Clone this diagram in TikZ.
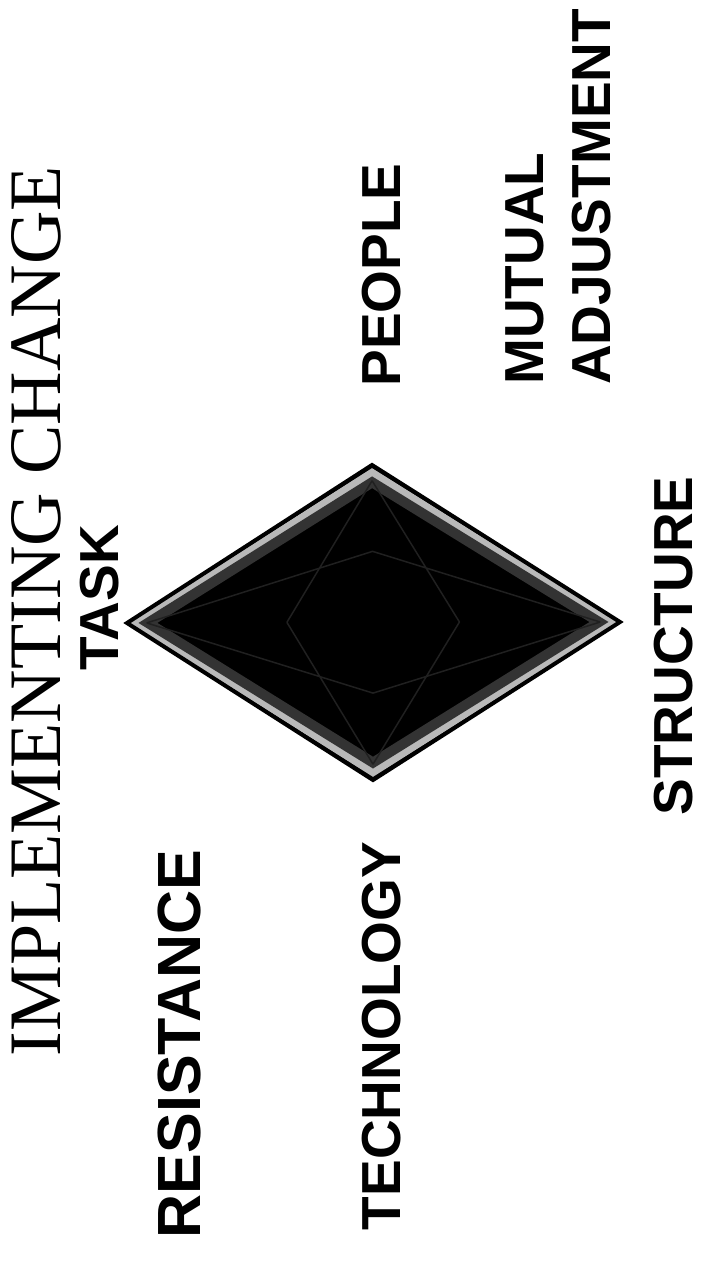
\documentclass[tikz,border=0pt]{standalone}
\usepackage{fontspec}
\usetikzlibrary{calc}
\setmainfont{Liberation Serif}
\newfontfamily\labelfont{Liberation Sans}
\tikzset{
  lbl/.style={font=\labelfont\bfseries\fontsize{55}{60}\selectfont, rotate=90, inner sep=0pt, anchor=base},
  ttl/.style={font=\fontsize{74}{80}\selectfont, rotate=90, inner sep=0pt, anchor=base}
}
\begin{document}
\begin{tikzpicture}[x=1pt,y=-1pt]
\useasboundingbox (0,0) rectangle (702,1287);
% diamond
\coordinate (dT) at (372,465);
\coordinate (dL) at (127,623);
\coordinate (dR) at (620,622);
\coordinate (dB) at (373,780);
\coordinate (dC) at (373,622);
\fill[black] (dT) -- (dR) -- (dB) -- (dL) -- cycle;
\draw[gray!55, line width=8, line join=miter] ($(dC)!0.95!(dT)$) -- ($(dC)!0.962!(dR)$) -- ($(dC)!0.95!(dB)$) -- ($(dC)!0.962!(dL)$) -- cycle;
\draw[gray!40!black, line width=10, line join=miter] ($(dC)!0.89!(dT)$) -- ($(dC)!0.915!(dR)$) -- ($(dC)!0.89!(dB)$) -- ($(dC)!0.915!(dL)$) -- cycle;
\draw[gray!25!black, line width=1.5] ($(dC)!0.9!(dT)$) -- ($(dC)!0.35!(dR)$) ($(dC)!0.9!(dT)$) -- ($(dC)!0.35!(dL)$)
  ($(dC)!0.9!(dB)$) -- ($(dC)!0.35!(dR)$) ($(dC)!0.9!(dB)$) -- ($(dC)!0.35!(dL)$)
  ($(dC)!0.92!(dL)$) -- ($(dC)!0.45!(dT)$) ($(dC)!0.92!(dL)$) -- ($(dC)!0.45!(dB)$)
  ($(dC)!0.92!(dR)$) -- ($(dC)!0.45!(dT)$) ($(dC)!0.92!(dR)$) -- ($(dC)!0.45!(dB)$);
\draw[black, line width=4, line join=miter] (dT) -- (dR) -- (dB) -- (dL) -- cycle;
% texts
\node[ttl] (title) at (60,611) {IMPLEMENTING CHANGE};
\node[lbl] (task) at (118,598) {TASK};
\node[lbl, font=\labelfont\bfseries\fontsize{61}{66}\selectfont] (resist) at (200,1044) {RESISTANCE};
\node[lbl] (tech) at (400,1036) {TECHNOLOGY};
\node[lbl] (people) at (400,275) {PEOPLE};
\node[lbl, anchor=base west] (mutual) at (543,385) {MUTUAL};
\node[lbl, anchor=base west] (adjust) at (610,385) {ADJUSTMENT};
\node[lbl] (struct) at (692,646) {STRUCTURE};
\end{tikzpicture}
\end{document}
